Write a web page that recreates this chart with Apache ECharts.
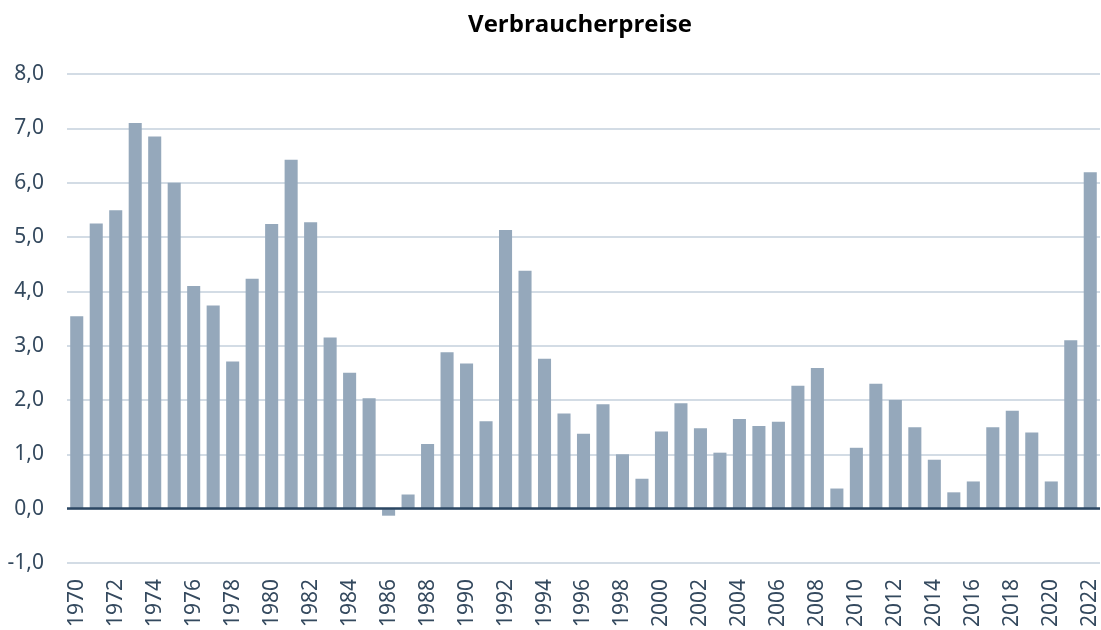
<!DOCTYPE html>
<html>
<head>
<meta charset="utf-8">
<script src="https://cdn.jsdelivr.net/npm/echarts@6/dist/echarts.min.js"></script>
<style>
  html, body { margin: 0; padding: 0; background: #fff; }
  #chart { width: 1101px; height: 630px; }
</style>
</head>
<body>
<div id="chart"></div>
<script>
// Verbraucherpreise, Veränderung gegenüber Vorjahr in %
var years = [];
for (var y = 1970; y <= 2022; y++) years.push(String(y));

var values = [
  3.54, 5.25, 5.49, 7.10, 6.85, 6.00, 4.10, 3.74, 2.71, 4.23,
  5.24, 6.42, 5.27, 3.15, 2.50, 2.03, -0.13, 0.26, 1.19, 2.88,
  2.67, 1.61, 5.13, 4.38, 2.76, 1.75, 1.38, 1.92, 1.00, 0.55,
  1.42, 1.94, 1.48, 1.03, 1.65, 1.52, 1.60, 2.26, 2.59, 0.37,
  1.12, 2.30, 2.00, 1.50, 0.90, 0.30, 0.50, 1.50, 1.80, 1.40,
  0.50, 3.10, 6.19
];

var textColor = "#34495e";
var labelFont = "'Noto Sans', 'Open Sans', sans-serif";

var chart = echarts.init(document.getElementById("chart"), null, { renderer: "canvas" });

chart.setOption({
  animation: false,
  title: {
    text: "Verbraucherpreise",
    left: 575,
    top: 8,
    textAlign: "center",
    textStyle: {
      fontFamily: "'Open Sans', sans-serif",
      fontWeight: "bold",
      fontSize: 24,
      color: "#000"
    }
  },
  grid: { left: 67, right: 1, top: 74, bottom: 66, containLabel: false },
  xAxis: {
    type: "category",
    data: years,
    axisLine: { show: false },
    axisTick: { show: false },
    axisLabel: {
      interval: 1,
      rotate: 90,
      margin: 16,
      fontSize: 21,
      fontFamily: labelFont,
      color: textColor
    }
  },
  yAxis: {
    type: "value",
    min: -1,
    max: 8,
    interval: 1,
    axisLine: { show: false },
    axisTick: { show: false },
    axisLabel: {
      margin: 23,
      fontSize: 21,
      fontFamily: labelFont,
      color: textColor,
      formatter: function (v) { return v.toFixed(1).replace(".", ","); }
    },
    splitLine: { lineStyle: { color: "#c4d0dc", width: 1.5 } }
  },
  series: [{
    type: "bar",
    data: values,
    barCategoryGap: "33%",
    itemStyle: { color: "#95a8bb" },
    markLine: {
      silent: true,
      symbol: "none",
      label: { show: false },
      lineStyle: { color: "#2c4763", width: 2.5, type: "solid" },
      data: [{ yAxis: 0 }]
    }
  }]
});
</script>
</body>
</html>
